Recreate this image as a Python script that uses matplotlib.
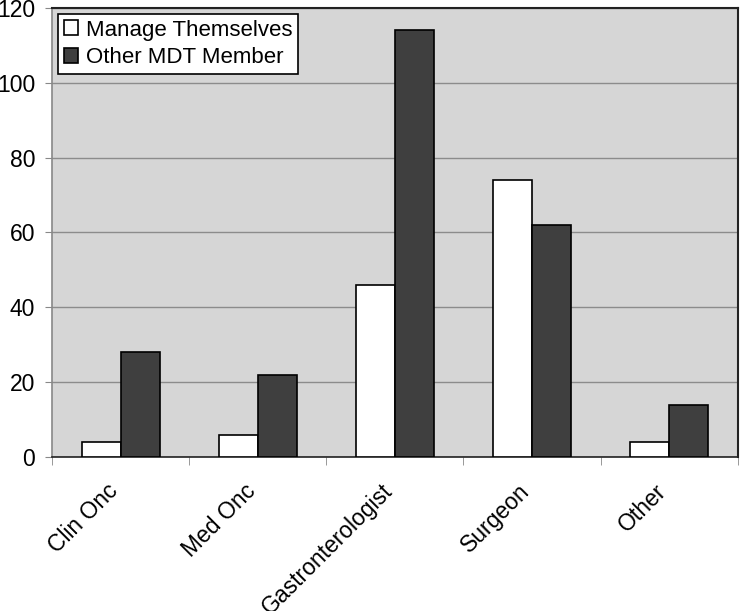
import matplotlib
matplotlib.use("Agg")
import matplotlib.pyplot as plt
import matplotlib.transforms as mtransforms
import numpy as np

categories = ["Clin Onc", "Med Onc", "Gastronterologist", "Surgeon", "Other"]
manage_themselves = [4, 6, 46, 74, 4]
other_mdt = [28, 22, 114, 62, 14]
series_names = ["Manage Themselves", "Other MDT Member"]
yticks = [0, 20, 40, 60, 80, 100, 120]

plt.rcParams['font.family'] = ['Liberation Sans', 'DejaVu Sans']

fig = plt.figure(figsize=(7.4, 6.11), dpi=100)
ax = fig.add_axes([0.0703, 0.252, 0.9267, 0.735])
ax.set_facecolor('#d6d6d6')

x = np.arange(len(categories))
w = 0.284
ax.bar(x - w/2, manage_themselves, w, color='white', edgecolor='black', linewidth=1.2, label=series_names[0], zorder=3)
ax.bar(x + w/2, other_mdt, w, color='#3f3f3f', edgecolor='black', linewidth=1.2, label=series_names[1], zorder=3)

ax.set_xlim(-0.5, len(categories) - 0.5)
ax.set_ylim(0, 120)
ax.set_yticks(yticks)
ax.yaxis.grid(True, color='#8c8c8c', linewidth=1, zorder=1)
ax.set_axisbelow(True)

ax.set_xticks(x)
ax.set_xticklabels(categories, rotation=45, ha='right', va='top', rotation_mode='anchor', fontsize=16.5)
ax.tick_params(axis='x', which='major', length=0, pad=16)
offset = mtransforms.ScaledTranslation(-14/100, 0, fig.dpi_scale_trans)
for lbl in ax.get_xticklabels():
    lbl.set_transform(lbl.get_transform() + offset)
ax.set_xticks(np.arange(len(categories) + 1) - 0.5, minor=True)
ax.tick_params(axis='x', which='minor', length=6, color='#888888')
ax.tick_params(axis='y', labelsize=16.5, length=5, color='#888888', pad=7)

for s in ['left', 'bottom']:
    ax.spines[s].set_color('#888888')
    ax.spines[s].set_linewidth(1.2)
for s in ['top', 'right']:
    ax.spines[s].set_color('#222222')
    ax.spines[s].set_linewidth(1.5)
ax.spines['bottom'].set_color('#222222')

leg = ax.legend(loc='upper left', fontsize=16, frameon=True, fancybox=False,
                edgecolor='black', framealpha=1, handlelength=0.65, handleheight=0.65,
                handletextpad=0.35, borderpad=0.25, labelspacing=0.3, borderaxespad=0,
                bbox_to_anchor=(0.0087, 0.9866))
leg.get_frame().set_linewidth(1.2)

fig.savefig("out.png", dpi=100)
